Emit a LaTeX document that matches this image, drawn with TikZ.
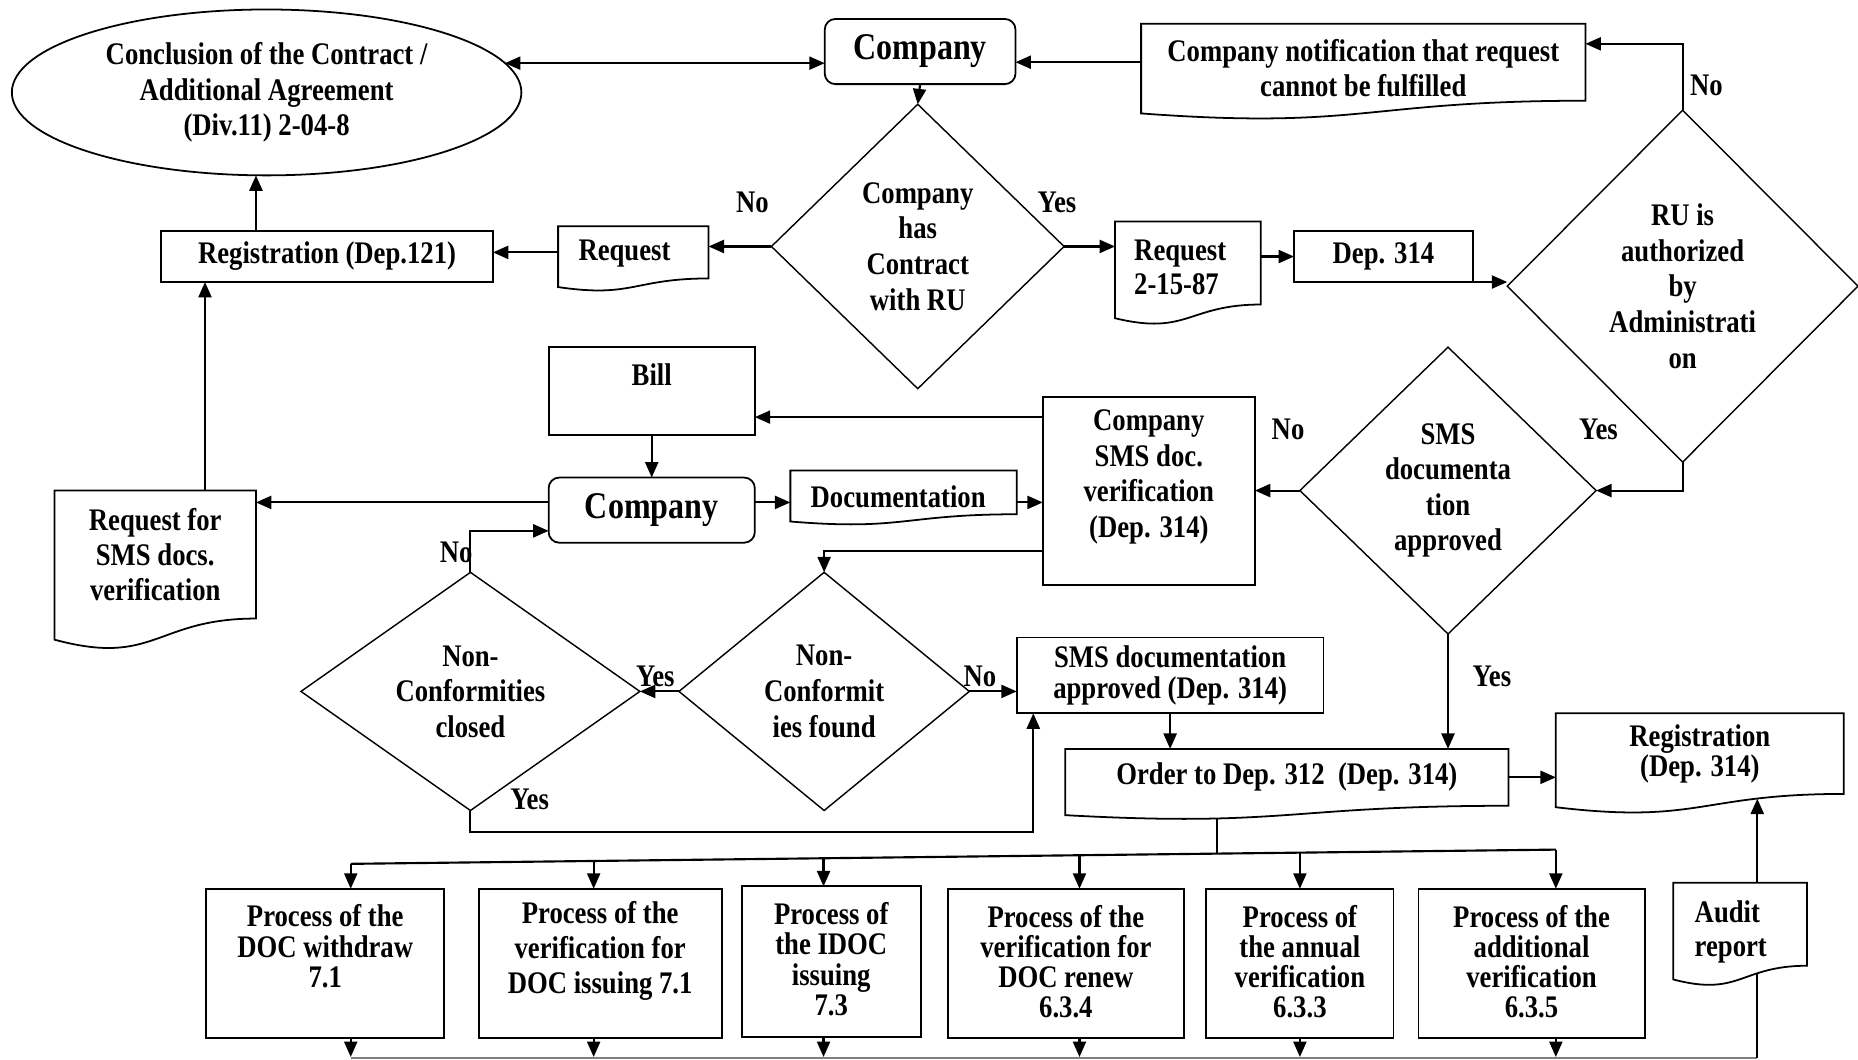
\documentclass[tikz,border=0pt]{standalone}
\usepackage{fontspec}
\setmainfont{Liberation Serif}[FakeStretch=0.85]
\usetikzlibrary{shapes.geometric,arrows.meta,calc}

\newcommand\fA{\fontsize{26.5}{30}\selectfont\bfseries}
\newcommand\fB{\fontsize{26.5}{25.5}\selectfont\bfseries}
\newcommand\fBB{\fontsize{26.5}{29.5}\selectfont\bfseries}
\newcommand\fC{\fontsize{31.8}{36}\selectfont\bfseries}
\newcommand\fD{\fontsize{26.5}{26}\selectfont\bfseries}
\newcommand\fE{\fontsize{26.5}{25}\selectfont\bfseries}
\newcommand\fF{\fontsize{26.5}{29}\selectfont\bfseries}

\tikzset{
 shp/.style={line width=1.5pt},
 rectbox/.style={draw, shp, rectangle, inner sep=0pt, outer sep=0pt, align=center, font=\fA},
 rbox/.style={rectbox, rounded corners=9pt},
 docn/.style={rectangle, inner sep=0pt, outer sep=0pt, align=center, font=\fA},
 decis/.style={draw, line width=1.2pt, diamond, inner sep=0pt, outer sep=0pt, align=center, font=\fA},
 arr/.style={line width=1.8pt, -{Triangle[length=13pt,width=11pt]}},
 darr/.style={line width=1.8pt, {Triangle[length=13pt,width=11pt]}-{Triangle[length=13pt,width=11pt]}},
 plain/.style={line width=1.8pt},
 lbl/.style={font=\fA, inner sep=0pt},
 txt/.style={inner sep=0pt, align=center, font=\fA},
}

% document shape: node = upper (text) region; wavy bottom drawn below it
\newcommand\docoutline[1]{%
 \draw[shp] let \p1=(#1.north west), \p2=(#1.south east) in
 (\x1,\y1) -- (\x2,\y1) -- (\x2,\y2)
 .. controls ({\x1+0.5*(\x2-\x1)},{\y2}) and ({\x1+0.5*(\x2-\x1)},{\y1-1.378*(\y1-\y2)}) ..
 (\x1,{\y1-1.165*(\y1-\y2)}) -- cycle;}

\begin{document}
\begin{tikzpicture}[x=1pt,y=-1pt]
\fill[white] (0,0) rectangle (1568,894);
\useasboundingbox (0,0) rectangle (1568,894);

% ---- top row
\node[ellipse, draw, shp, inner sep=0pt, outer sep=0pt, minimum width=430pt, minimum height=140pt, align=center, font=\fA] (E) at (225,78) {Conclusion of the Contract /\\Additional Agreement\\(Div.11) 2-04-8};
\node[rbox, minimum width=161pt, minimum height=55pt, font=\fC] (C1) at (776.5,43.5) {Company};
\node[docn, minimum width=375pt, minimum height=65pt] (N) at (1150.5,52.5) {};
\docoutline{N}
\node[txt, font=\fF] (Nt) at (1150.5,57.5) {Company notification that request\\cannot be fulfilled};

\node[decis, minimum width=247pt, minimum height=240pt] (D1) at (774.5,208) {Company\\has\\Contract\\with RU};
\node[docn, minimum width=127pt, minimum height=44pt] (R1) at (534.5,213) {};
\docoutline{R1}
\node[txt] (R1t) at (527,214) {Request};
\node[rectbox, minimum width=280pt, minimum height=43pt] (Reg) at (276,216.5) {Registration (Dep.121)};
\node[docn, minimum width=123pt, minimum height=70pt] (R2) at (1002.5,222) {};
\docoutline{R2}
\node[txt, anchor=west, align=left, font=\fF] (R2t) at (957,225.5) {Request\\2-15-87};
\node[rectbox, minimum width=151pt, minimum height=43pt] (Dep) at (1167.5,216.5) {Dep. 314};
\node[decis, minimum width=296pt, minimum height=297pt] (D2) at (1420,241.5) {RU is\\authorized\\by\\Administrati\\on};

% ---- middle
\node[decis, minimum width=250pt, minimum height=242pt] (D3) at (1222,414) {SMS\\documenta\\tion\\approved};
\node[rectbox, minimum width=179pt, minimum height=159pt] (V) at (969.5,414.5) {};
\node[txt] (Vt) at (969.5,402.5) {Company\\SMS doc.\\verification\\(Dep. 314)};
\node[rectbox, minimum width=174pt, minimum height=74pt] (B) at (550,330) {};
\node[txt] (Bt) at (550,316) {Bill};
\node[rbox, minimum width=174pt, minimum height=55pt, font=\fC] (C2) at (550,430.5) {Company};
\node[docn, minimum width=170pt, minimum height=108pt, font=\fontsize{26.5}{29.5}\selectfont\bfseries] (RS) at (131,468) {Request for\\SMS docs.\\verification};
\docoutline{RS}
\node[docn, minimum width=191pt, minimum height=37pt] (DOC) at (762.5,415.5) {};
\docoutline{DOC}
\node[txt] (DOCt) at (758,419) {Documentation};
\node[decis, aspect=1.22, minimum width=245pt, minimum height=201pt] (D4) at (695.5,583.5) {Non-\\Conformit\\ies found};
\node[decis, aspect=1.42, minimum width=286pt, minimum height=201pt] (D5) at (397,583.5) {Non-\\Conformities\\closed};
\node[rectbox, minimum width=259pt, minimum height=64pt, font=\fD] (A) at (987.5,570) {SMS documentation\\approved (Dep. 314)};
\node[docn, minimum width=374pt, minimum height=48pt] (O) at (1086,656) {Order to Dep. 312\ \ (Dep. 314)};
\docoutline{O}
\node[docn, minimum width=243pt, minimum height=68pt, font=\fE] (RG) at (1434.5,636) {Registration\\(Dep. 314)};
\docoutline{RG}
\node[docn, minimum width=113pt, minimum height=70pt] (AR) at (1468.5,780) {};
\docoutline{AR}
\node[txt, anchor=west, align=left, font=\fF] (ARt) at (1430,786.5) {Audit\\report};

% ---- bottom row
\node[rectbox, minimum width=201pt, minimum height=126pt] (P1) at (274.5,813) {};
\node[txt, font=\fB] (P1t) at (274.5,798.5) {Process of the\\DOC withdraw\\7.1};
\node[rectbox, minimum width=205pt, minimum height=126pt] (P2) at (506.5,813) {};
\node[txt, font=\fBB] (P2t) at (506.5,802.5) {Process of the\\verification for\\DOC issuing 7.1};
\node[rectbox, minimum width=151pt, minimum height=127pt] (P3) at (701.5,811.5) {};
\node[txt, font=\fB] (P3t) at (701.5,809.5) {Process of\\the IDOC\\issuing\\7.3};
\node[rectbox, minimum width=199pt, minimum height=126pt] (P4) at (899.5,813) {};
\node[txt, font=\fB] (P4t) at (899.5,811.5) {Process of the\\verification for\\DOC renew\\6.3.4};
\node[rectbox, minimum width=158pt, minimum height=126pt] (P5) at (1097,813) {};
\node[txt, font=\fB] (P5t) at (1097,811.5) {Process of\\the annual\\verification\\6.3.3};
\node[rectbox, minimum width=191pt, minimum height=126pt] (P6) at (1292.5,813) {};
\node[txt, font=\fB] (P6t) at (1292.5,811.5) {Process of the\\additional\\verification\\6.3.5};

% ---- labels
\node[lbl] (l1) at (635,171) {No};
\node[lbl] (l2) at (892,171) {Yes};
\node[lbl] (l3) at (1440,72) {No};
\node[lbl] (l4) at (1349,362) {Yes};
\node[lbl] (l5) at (1087,362) {No};
\node[lbl] (l6) at (1259,571) {Yes};
\node[lbl] (l7) at (385,466) {No};
\node[lbl] (l8) at (553,571) {Yes};
\node[lbl] (l9) at (827,571) {No};
\node[lbl] (l10) at (447,675) {Yes};

% ---- connectors
\draw[darr] (E.7) -- (E.7 -| C1.west);
\draw[arr] (N.west) -- (N.west -| C1.east);
\coordinate (Nin) at ([yshift=15.5pt]N.east);
\draw[arr] (D2.north) |- (Nin);
\draw[arr] (C1.south) -- (D1.north);
\draw[arr] (D1.west) -- (D1.west -| R1.east);
\draw[arr] (R1.west) -- (R1.west -| Reg.east);
\coordinate (RegUp) at ([xshift=80pt]Reg.north west);
\draw[arr] (RegUp) -- (RegUp |- E.south);
\draw[arr] (D1.east) -- (D1.east -| R2.west);
\draw[arr] (R2.east |- Dep.west) -- (Dep.west);
\draw[arr] (Dep.south east) -- (Dep.south east -| D2.west);
\draw[arr] (D2.south) |- (D3.east);
\draw[arr] (D3.west) -- (D3.west -| V.east);
\coordinate (Vb) at ([yshift=-17pt]V.north west);
\draw[arr] (Vb) -- (Vb -| B.east);
\draw[arr] (B.south) -- (C2.north);
\coordinate (C2w) at ([yshift=6.5pt]C2.west);
\draw[arr] (C2w) -- (C2w -| RS.east);
\coordinate (RSup) at ([xshift=42pt]RS.north);
\draw[arr] (RSup) -- (RSup |- Reg.south);
\coordinate (C2e) at ([yshift=6.5pt]C2.east);
\draw[arr] (C2e) -- (C2e -| DOC.west);
\coordinate (DOCe) at ([yshift=-8.5pt]DOC.east);
\draw[arr] (DOCe) -- (DOCe -| V.west);
\coordinate (Vd) at ([yshift=29pt]V.south west);
\draw[arr] (Vd) -| (D4.north);
\draw[arr] (D4.east) -- (D4.east -| A.west);
\draw[arr] (D4.west) -- (D5.east);
\coordinate (C2n) at ([yshift=-17.5pt]C2.west);
\draw[arr] (D5.north) |- (C2n);
\coordinate (Aup) at ([xshift=14pt]A.south west);
\draw[arr] (D5.south) -- ++(0,18) -| (Aup);
\draw[arr] (A.south) -- (A.south |- O.north);
\draw[arr] (D3.south) -- (D3.south |- O.north);
\draw[arr] (O.east) -- (O.east -| RG.west);
\coordinate (ARup) at ([xshift=14.5pt]AR.north);
\coordinate (RGin) at ([xshift=48.5pt,yshift=-4pt]RG.south);
\draw[arr] (ARup) -- (RGin);

% bus to process boxes
\coordinate (bus1) at (296,729);
\coordinate (bus2) at (501,726.6);
\coordinate (bus3) at (695,724.3);
\coordinate (bus4) at (911,721.7);
\coordinate (busO) at (1027,720.4);
\coordinate (bus5) at (1097,719.5);
\coordinate (bus6) at (1313,717);
\coordinate (Oout) at ([xshift=-59pt,yshift=-10.5pt]O.south);
\draw[line width=1.2pt] (Oout) -- (busO);
\draw[plain] (bus1) -- (bus6);
\draw[arr] (bus1) -- (bus1 |- P1.north);
\draw[arr] (bus2) -- (bus2 |- P2.north);
\draw[arr] (bus3) -- (bus3 |- P3.north);
\draw[arr] (bus4) -- (bus4 |- P4.north);
\draw[arr] (bus5) -- (bus5 |- P5.north);
\draw[arr] (bus6) -- (bus6 |- P6.north);

% bottom edge
\coordinate (e1) at (296,892);
\coordinate (e2) at (501,892);
\coordinate (e3) at (695,892);
\coordinate (e4) at (911,892);
\coordinate (e5) at (1097,892);
\coordinate (e6) at (1313,892);
\draw[arr] (bus1 |- P1.south) -- (e1);
\draw[arr] (bus2 |- P2.south) -- (e2);
\draw[arr] (bus3 |- P3.south) -- (e3);
\draw[arr] (bus4 |- P4.south) -- (e4);
\draw[arr] (bus5 |- P5.south) -- (e5);
\draw[arr] (bus6 |- P6.south) -- (e6);
\coordinate (botL) at (296,893);
\coordinate (botR) at (1483,893);
\draw[line width=1.5pt, gray] (botL) -- (botR);
\coordinate (ARdn) at ([xshift=14.5pt,yshift=-6pt]AR.south);
\draw[plain] (ARdn) -- (ARdn |- botR);
\end{tikzpicture}
\end{document}
